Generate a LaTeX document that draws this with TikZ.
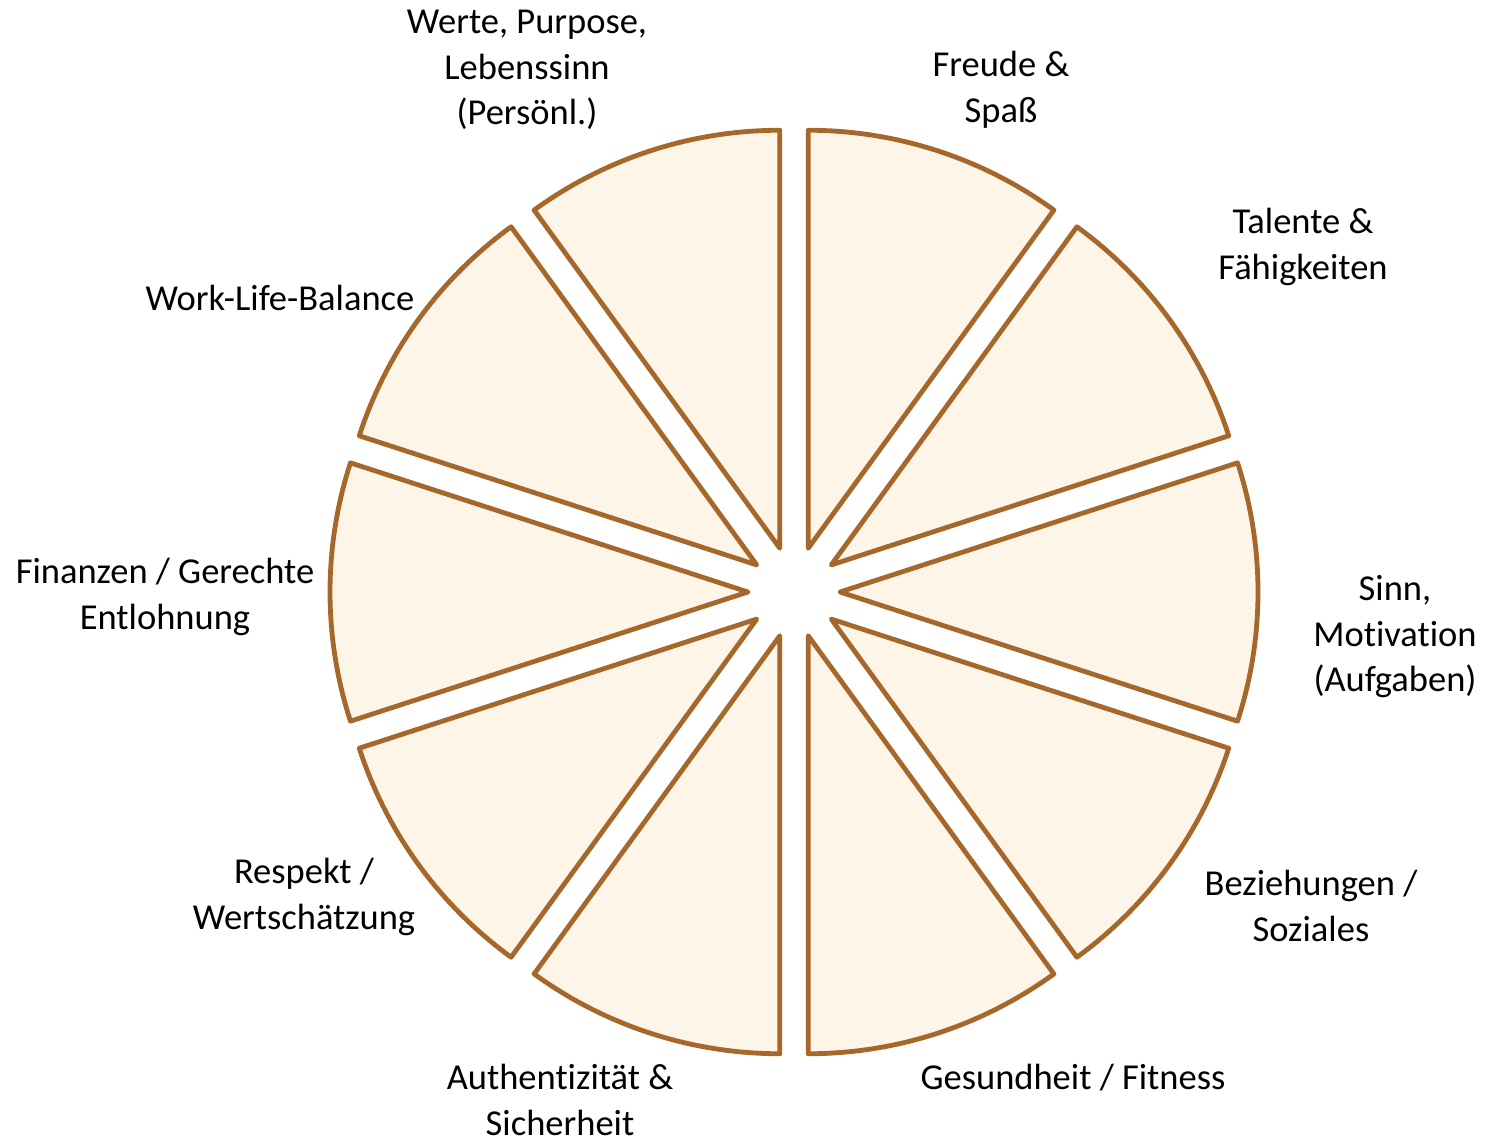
\documentclass[tikz,border=0pt]{standalone}
\usepackage{fontspec}
\setmainfont{Carlito}[RawFeature=-liga]
\usetikzlibrary{calc}
\definecolor{wedgeline}{HTML}{A5672A}
\definecolor{wedgefill}{HTML}{FDF5E7}
\begin{document}
\begin{tikzpicture}[x=1pt,y=1pt,
  wedge/.style={draw=wedgeline,fill=wedgefill,line width=4.8pt,line join=round},
  lbl/.style={align=center,inner sep=0pt,font=\fontsize{36.5}{45.5}\selectfont,text=black}]
\useasboundingbox (0,0) rectangle (1488,-1139);
\coordinate (C) at (794,-592);
\foreach \t in {72,36,0,-36,-72,-108,-144,180,144,108}{
  \draw[wedge] ($(C)+(\t:46)$) -- ++(\t-18:418) arc[start angle=\t-18,end angle=\t+18,radius=418] -- cycle;
}
\node[lbl] (werte) at (527,-70) {Werte, Purpose,\\Lebenssinn\\(Persönl.)};
\node[lbl] (freude) at (1001,-90) {Freude \&\\Spaß};
\node[lbl] (talente) at (1303,-247) {Talente \&\\Fähigkeiten};
\node[lbl] (sinn) at (1395,-637) {Sinn,\\Motivation\\(Aufgaben)};
\node[lbl] (bez) at (1311,-906) {Beziehungen /\\Soziales};
\node[lbl] (ges) at (1073,-1078) {Gesundheit / Fitness};
\node[lbl] (auth) at (560,-1100) {Authentizität \&\\Sicherheit};
\node[lbl] (resp) at (304,-897) {Respekt /\\Wertschätzung};
\node[lbl] (fin) at (165,-597) {Finanzen / Gerechte\\Entlohnung};
\node[lbl] (wlb) at (280,-298) {Work-Life-Balance};
\end{tikzpicture}
\end{document}
